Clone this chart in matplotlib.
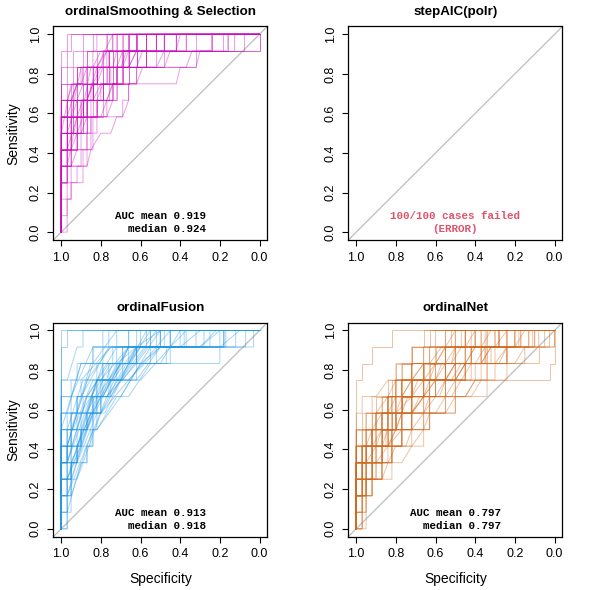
import matplotlib
matplotlib.use("Agg")
import matplotlib.pyplot as plt

plt.rcParams['font.family'] = ['Liberation Sans', 'DejaVu Sans']

# ---------------- data ----------------
titles = ["ordinalSmoothing & Selection", "stepAIC(polr)", "ordinalFusion", "ordinalNet"]
n_levels = 12  # sensitivity steps of 1/12
auc_mean = [0.919, None, 0.913, 0.797]
auc_median = [0.924, None, 0.918, 0.797]
fail_text = ["100/100 cases failed", "(ERROR)"]
tick_vals = [1.0, 0.8, 0.6, 0.4, 0.2, 0.0]
tick_labels = ["1.0", "0.8", "0.6", "0.4", "0.2", "0.0"]

# Each curve: specificity (%) at which sensitivity rises one level;
# a tuple (spec_start, spec_end, n_levels) is a sloped (tied) rise.
curves_smoothing = [
    [100,100,100,100,100,100,100,100,100,100,100,97],
    [100,100,100,100,100,100,100,100,100,100,97,95],
    [100,100,100,100,100,100,100,100,100,97,94,89],
    [100,100,100,100,100,100,100,100,97,92,87,84],
    [100,100,100,100,100,100,100,97,92,87,82,77],
    [100,100,100,100,100,100,97,92,87,82,76,72],
    [100,100,100,100,100,100,95,89,84,77,72,69],
    [100,100,100,100,100,97,92,84,79,74,69,66],
    [100,100,100,100,100,95,87,82,76,69,66,62],
    [100,100,100,100,97,92,87,79,72,66,62,57],
    [100,100,100,100,100,100,97,94,89,82,74,52],
    [100,100,100,100,100,100,100,95,89,84,79,48],
    [100,100,100,100,100,97,92,87,79,72,62,42],
    [100,100,100,100,100,100,100,100,95,92,89,37],
    [100,100,100,100,100,100,95,92,87,84,76,32],
    [100,100,100,100,100,100,100,97,87,82,48,24],
    [100,100,100,100,100,97,94,89,84,76,66,18.5],
    [100,100,100,100,100,100,100,100,100,94,87,16],
    [100,100,100,100,100,100,97,89,82,74,69,13],
    [100,100,100,100,100,100,100,92,84,79,57,8],
    [100,100,100,97,95,92,89,87,84,82,76,0],
    [100,100,100,100,100,100,100,97,94,92,32,0],
    [100,100,100,100,100,100,97,92,(84,80,1),62,(52,48,1),42],
    [100,100,100,100,100,100,100,100,(97,94,1),89,84,82],
    [100,100,100,100,100,100,(97,92,2),87,84,(72,69,1),66],
    [100,100,100,100,100,100,100,95,(92,89,1),87,(62,59,1),57],
    [100,100,100,100,100,97,95,(92,89,1),(87,84,1),(82,79,1),77,72],
    [100,100,100,100,97,95,92,90,(87,82,2),(80,77,1),74],
    [100,100,100,97,95,92,90,87,85,(84,80,1),(69,66,1),62],
    [100,100,100,100,100,100,100,97,(95,92,1),(90,87,1),(84,80,1),77],
    [100,100,100,100,97,95,(92,89,1),87,(77,74,1),69,66,62],
    [97,97,95,92,90,87,85,82,80,75,(70,67,1),52],
    [100,100,100,100,100,(97,92,2),90,(87,84,1),82,(48,45,1),37],
    [100,100,100,97,(95,92,1),90,87,(77,74,1),72,69,(66,62,1),52],
    [100,100,100,100,100,100,100,(97,92,2),87,(82,77,1),(42,40,1)],
    [100,100,100,100,100,97,95,(69,66,1),66,(42,40,1),(32,30,1),24],
    [100,100,100,100,100,(85,80,1),(75,72,1),69,66,62,57,48],
    [100,100,100,100,(87,85,1),84,82,77,74,72,69,66],
    [100,100,97,95,89,87,85,(80,77,1),74,72,(66,62,1),57],
    [100,100,100,100,97,(95,92,1),90,87,84,(62,59,1),52,48],
    [100,97,95,89,87,85,84,82,(77,74,1),72,69,62],
    [100,100,100,97,95,92,(90,87,1),85,(82,79,1),77,(74,72,1),24],
    [100,100,100,100,100,100,100,100,(95,92,1),90,(37,34,1),16],
    [100,100,100,100,100,100,(100,95,3),89,79,74],
    [100,100,100,100,(97,92,3),(90,85,3),76,69],
    [100,100,100,100,100,100,100,(95,90,3),(82,74,2)],
    [100,100,100,100,100,97,94,89,84,79,74,66],
    [100,100,100,100,100,100,97,89,79,72,62,57],
    [100,100,100,100,100,100,100,94,84,76,66,52],
    [100,100,100,100,100,100,92,87,79,69,57,42],
    [100,100,100,100,100,100,100,100,92,82,72,62],
    [100,100,100,100,100,95,89,82,74,66,57,48],
]

curves_fusion = [
    [100,100,100,100,100,100,100,100,100,100,100,100],
    [100,100,100,100,100,100,100,100,100,100,100,97],
    [100,100,100,100,100,100,100,100,100,(97,92,2),89],
    [100,100,100,100,100,100,100,(97,90,3),84,79],
    [100,100,100,100,100,100,(100,90,4),84,76],
    [100,100,100,100,100,97,(95,85,4),79,72],
    [100,100,100,100,(97,90,3),(87,79,3),74,66],
    [100,100,100,97,95,(92,82,4),76,69,62],
    [100,100,100,100,100,100,95,(92,84,3),72,55],
    [100,100,100,100,100,(97,87,4),79,(66,57,2)],
    [100,100,100,100,97,95,(90,82,3),(74,62,2),50],
    [100,100,100,100,100,100,100,95,(90,76,3),45],
    [100,100,100,100,100,97,(94,84,3),79,(66,55,2)],
    [100,100,100,100,(97,87,4),82,(72,62,2),37],
    [100,100,100,100,100,100,97,92,(87,76,2),20,12],
    [100,100,100,(97,84,5),(79,66,3),32],
    [100,100,100,100,100,100,100,100,(95,84,3),18],
    [100,100,100,100,100,95,90,(84,72,3),62,3],
    [100,100,97,95,92,90,(87,79,3),72,(62,50,2)],
    [97,95,95,(92,80,4),(78,70,2),62,(50,40,2)],
    [100,100,100,97,95,(92,82,3),80,(70,62,2),55],
    [100,100,97,95,92,90,87,84,(82,70,2),(60,50,1),18],
    [100,(97,90,3),87,85,84,(80,66,2),(60,45,2),45],
    [100,100,100,100,97,97,95,92,90,(87,75,2),60],
    [100,100,100,(97,87,3),84,84,(79,70,2),62,(52,45,1)],
    [100,100,100,100,(97,82,5),(80,66,2),(62,50,1)],
    [97,97,95,95,87,84,(82,70,2),(66,55,2),45,18],
    [100,100,100,95,92,90,87,80,(70,60,2),52,(20,10,1)],
    [100,100,(97,84,4),(82,72,2),(70,55,3),45],
    [100,100,100,100,97,95,(92,87,2),79,(66,52,2),38],
    [100,97,95,95,92,90,(87,75,3),(70,60,2),50],
    [100,100,100,97,(95,85,3),(80,70,2),(66,50,2),25],
    [100,100,97,95,(92,82,3),80,(77,66,3),(45,37,1)],
    [100,100,100,100,(95,80,4),(77,62,2),47,20],
    [100,100,100,(97,90,2),(87,77,3),75,(62,50,2),(30,20,1)],
    [100,100,100,100,97,(92,85,2),82,(80,70,2),66,(40,30,1)],
    [100,100,(97,85,5),82,(77,60,3),50],
    [100,97,(95,87,3),84,82,80,(75,66,2),55,(30,22,1)],
    [100,100,100,100,97,95,92,(90,75,3),(72,62,1),17],
    [100,100,97,(95,84,4),(80,72,2),(70,52,3)],
    [100,100,100,100,100,100,100,100,95,(90,75,2),7],
    [100,100,100,100,100,100,(97,89,3),82,69,57],
    [100,100,100,100,100,(97,92,2),(87,79,2),69,62,52],
    [100,100,100,100,100,100,100,92,(87,72,3),66],
    [100,100,100,100,97,92,87,(84,74,3),62,48],
    [100,100,100,100,100,100,95,89,82,(76,66,2),40],
    [100,100,100,100,100,(97,92,2),84,76,(69,57,2),28],
    [100,100,100,100,100,100,100,100,100,92,(84,72,2)],
]

curves_net = [
    [100,100,100,100,100,100,100,100,100,97,92,82],
    [95,95,95,87,82,(75,72,1),63,55,50,37,24,10],
    [100,100,97,95,90,85,(80,77,1),72,66,55,(45,40,1),30],
    [100,100,100,100,97,92,87,82,77,66,(40,35,1),0],
    [100,97,95,(87,84,1),82,77,72,66,(58,55,1),45,32,20],
    [100,100,100,100,100,95,90,82,(77,72,1),(52,47,1),35,8],
    [100,100,95,92,87,82,77,72,(66,63,1),55,34,2.5],
    [100,100,100,97,92,87,82,77,72,2.5,0,0],
    [100,100,100,100,97,95,(92,87,1),84,(77,72,1),(60,57,1),7.6,0],
    [100,100,97,95,92,82,77,(72,66,1),63,(50,45,1),34,20],
    [100,100,100,95,87,82,72,63,(55,50,1),45,37,28],
    [100,100,100,100,95,92,90,(84,80,1),77,72,(60,55,1),45],
    [100,100,92,87,82,77,(66,63,1),(55,50,1),(42,37,1),24,15,5],
    [100,100,100,100,100,97,92,90,84,80,72,66],
    [97,95,92,82,(77,72,1),66,63,50,34,30,24,13],
    [100,100,100,97,95,92,87,84,77,(72,66,1),55,45],
    [100,100,100,100,100,92,87,(80,72,1),66,(55,50,1),24,18],
    [100,100,97,95,90,(84,80,1),72,63,(52,47,1),40,30,24],
    [100,100,100,100,(95,90,1),84,80,77,63,(50,45,1),(37,32,1),28],
    [100,97,92,87,(84,80,1),72,66,(60,55,1),50,42,35,(30,24,1)],
    [100,100,100,100,97,(92,87,1),84,80,72,66,55,37],
    [100,100,100,97,92,87,84,80,(72,66,1),(50,45,1),(20,15,1),11],
    [100,100,95,92,(90,84,1),77,66,55,(45,40,1),34,24,17],
    [100,100,100,100,100,100,95,(90,84,1),80,72,60,50],
    [100,100,97,92,82,(72,66,1),63,50,(45,40,1),34,(28,24,1),13],
    [100,100,100,100,95,87,82,77,72,66,60,52],
    [100,100,97,97,92,(84,77,1),72,(66,60,1),55,45,(37,32,1),20],
    [100,100,100,100,100,100,100,97,(90,84,1),80,66,55],
    [97,97,95,92,87,82,80,(72,66,1),(60,55,1),45,37,10],
    [100,100,100,97,95,92,84,77,(66,60,1),(55,50,1),42,30],
    [100,100,100,100,92,87,80,72,66,60,(52,47,1),40],
    [100,100,97,92,87,82,77,(72,68,1),60,50,42,34],
    [100,100,100,100,97,95,90,84,80,(66,60,1),(45,40,1),24],
    [100,97,95,90,84,77,72,(66,63,1),55,(47,42,1),37,28],
    [100,100,100,100,100,95,90,87,80,(72,66,1),63,50],
    [100,100,100,97,95,87,(80,77,1),66,60,55,45,40],
    [100,100,100,100,97,92,82,72,63,50,42,(20,15,1)],
    [100,100,95,90,87,84,80,77,72,(60,55,1),(30,24,1),17],
    [100,100,100,100,100,97,95,92,(84,80,1),72,63,45],
    [100,100,100,95,92,(87,84,1),77,72,(66,60,1),55,50,42],
    [100,100,100,100,95,90,84,77,72,66,(55,50,1),(37,32,1)],
    [97,95,92,87,82,77,(72,66,1),63,55,50,45,40],
    [100,100,100,100,100,100,92,84,77,72,(63,57,1),47],
    [100,100,100,97,90,84,80,(72,66,1),60,55,50,35],
    [100,100,100,100,97,92,87,82,77,72,66,(55,50,1)],
    [100,100,97,92,87,84,80,77,72,63,55,45],
    [100,100,100,100,100,(95,92,1),87,84,80,77,72,60],
    [100,100,100,97,92,(90,87,1),82,(77,74,1),66,60,(52,50,1),37],
    [100,100,100,100,95,90,84,80,72,(63,60,1),55,24],
    [100,100,97,95,92,87,84,(80,77,1),72,66,45,28],
    [100,100,100,100,100,100,97,87,82,77,72,63],
    [100,97,95,92,87,(84,80,1),77,72,66,(55,50,1),42,34],
    [100,100,100,100,97,92,90,84,77,66,50,(45,40,1)],
    [100,100,100,97,95,90,87,80,(72,69,1),63,(60,55,1),55],
]

panel_curves = [curves_smoothing, None, curves_fusion, curves_net]
panel_colors = ["#CD0BBC", None, "#2297E6", "#D2691E"]
fail_color = "#DF536B"


def curve_xy(items):
    xs, ys, k = [1.0], [0.0], 0
    for it in items:
        if isinstance(it, tuple):
            s0, s1, n = it
        else:
            s0 = s1 = it
            n = 1
        xs += [s0 / 100.0, s1 / 100.0]
        ys += [k / n_levels, (k + n) / n_levels]
        k += n
    xs.append(0.0)
    ys.append(1.0)
    return xs, ys


fig = plt.figure(figsize=(5.9, 5.9), dpi=100)
positions = [
    [0.0903, 0.5932, 0.3630, 0.3620],
    [0.5903, 0.5932, 0.3630, 0.3620],
    [0.0903, 0.0903, 0.3630, 0.3630],
    [0.5903, 0.0903, 0.3630, 0.3630],
]

mono = ['Liberation Mono', 'DejaVu Sans Mono']

for i, pos in enumerate(positions):
    ax = fig.add_axes(pos)
    ax.set_xlim(1.04, -0.04)
    ax.set_ylim(-0.04, 1.04)
    ax.plot([1.04, -0.04], [-0.04, 1.04], color="#BEBEBE", lw=0.9, zorder=1)
    curves = panel_curves[i]
    if curves is not None:
        for c in curves:
            xs, ys = curve_xy(c)
            ax.plot(xs, ys, color=panel_colors[i], lw=0.7, alpha=0.4, zorder=2)
        ax.text(0.27, 0.082, f"AUC mean {auc_mean[i]:.3f}", ha="right", va="center",
                family=mono, fontweight="bold", fontsize=7.8, zorder=3)
        ax.text(0.27, 0.015, f"median {auc_median[i]:.3f}", ha="right", va="center",
                family=mono, fontweight="bold", fontsize=7.8, zorder=3)
    else:
        ax.text(0.5, 0.082, fail_text[0], ha="center", va="center", family=mono,
                fontweight="bold", fontsize=7.8, color=fail_color)
        ax.text(0.5, 0.015, fail_text[1], ha="center", va="center", family=mono,
                fontweight="bold", fontsize=7.8, color=fail_color)
    ax.set_xticks(tick_vals)
    ax.set_xticklabels(tick_labels)
    ax.set_yticks(tick_vals[::-1])
    ax.set_yticklabels(tick_labels[::-1], rotation=90, va="center")
    ax.tick_params(direction="out", length=4.3, width=0.8, labelsize=9, pad=4)
    for sp in ax.spines.values():
        sp.set_linewidth(0.9)
    ax.text(0.5, 1.068, titles[i], transform=ax.transAxes, ha="center", va="center",
            fontsize=9.6, fontweight="bold")
    if i in (0, 2):
        ax.set_ylabel("Sensitivity", fontsize=10)
        ax.yaxis.set_label_coords(-0.155, 0.5)
    if i in (2, 3):
        ax.set_xlabel("Specificity", fontsize=10)
        ax.xaxis.set_label_coords(0.5, -0.165)

fig.savefig("out.png", dpi=100)
